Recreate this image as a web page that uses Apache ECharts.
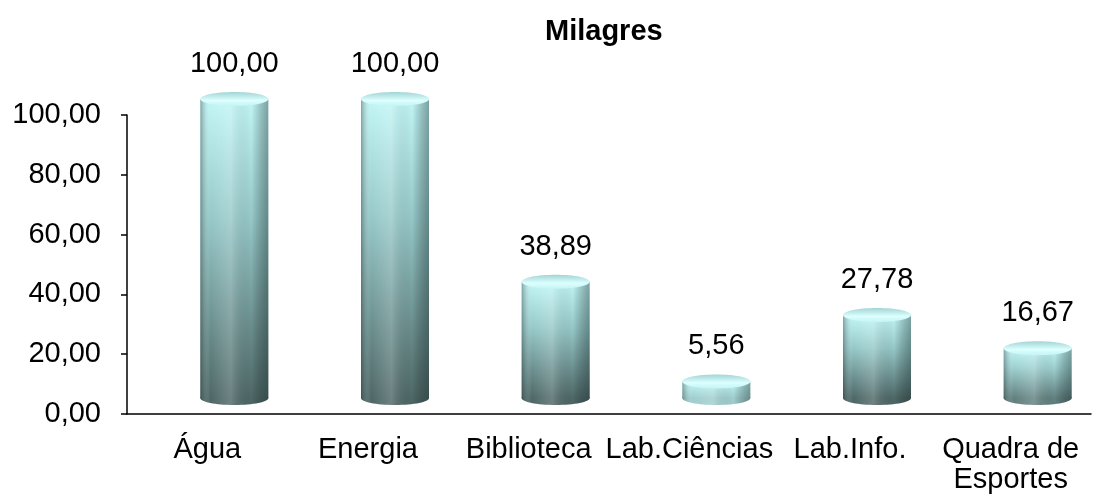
<!DOCTYPE html>
<html>
<head>
<meta charset="utf-8">
<script src="https://cdn.jsdelivr.net/npm/echarts@6/dist/echarts.min.js"></script>
<style>
  html, body { margin: 0; padding: 0; background: #fff; }
  #main { width: 1093px; height: 497px; }
</style>
</head>
<body>
<div id="main"></div>
<script>
  // dados
  var categorias = ['Água', 'Energia', 'Biblioteca', 'Lab.Ciências', 'Lab.Info.', 'Quadra de\nEsportes'];
  var valores = [100, 100, 38.89, 5.56, 27.78, 16.67];
  var yTicks = [0, 20, 40, 60, 80, 100];

  var fonte = '"Liberation Sans", Arial, sans-serif';

  function fmt(v) {
    return v.toFixed(2).replace('.', ',');
  }

  function mix(a, b, t) {
    var c = [];
    for (var i = 0; i < 3; i++) c.push(Math.round(a[i] + (b[i] - a[i]) * t));
    return 'rgb(' + c.join(',') + ')';
  }

  // cilindro "3D" desenhado por renderItem
  function renderCilindro(params, api) {
    var idx = api.value(0);
    var val = api.value(1);
    var base = api.coord([idx, 0]);
    var topo = api.coord([idx, val]);
    var dx = 27, offY = 16, rx = 34, ry = 7;
    var cx = base[0] + dx;
    var yb = base[1] - offY;
    var yt = topo[1] - offY;
    var h = yb - yt;
    var f = Math.min(1, h / 60);
    var claro = [192, 244, 244];
    var escuro = [78, 104, 103];
    var fundo = mix(claro, escuro, f);
    var meio = mix(claro, [150, 200, 200], f);

    var G = echarts.graphic;
    var gradV = new G.LinearGradient(0, 0, 0, 1, [
      { offset: 0, color: '#c2f6f6' },
      { offset: 0.4, color: meio },
      { offset: 1, color: fundo }
    ]);
    var gradH = new G.LinearGradient(0, 0, 1, 0, [
      { offset: 0, color: 'rgba(30,50,50,0.4)' },
      { offset: 0.15, color: 'rgba(255,255,255,0)' },
      { offset: 0.45, color: 'rgba(255,255,255,0.18)' },
      { offset: 0.75, color: 'rgba(0,0,0,0)' },
      { offset: 1, color: 'rgba(20,40,40,0.4)' }
    ]);
    var gradTopo = new G.LinearGradient(0, 0, 0, 1, [
      { offset: 0, color: '#a2d4d4' },
      { offset: 0.6, color: '#dcffff' },
      { offset: 1, color: '#c4f4f4' }
    ]);

    return {
      type: 'group',
      children: [
        { type: 'ellipse', shape: { cx: cx, cy: yb, rx: rx, ry: ry }, style: { fill: fundo } },
        { type: 'ellipse', shape: { cx: cx, cy: yb, rx: rx, ry: ry }, style: { fill: gradH } },
        { type: 'rect', shape: { x: cx - rx, y: yt, width: rx * 2, height: h }, style: { fill: gradV } },
        { type: 'rect', shape: { x: cx - rx, y: yt, width: rx * 2, height: h }, style: { fill: gradH } },
        { type: 'ellipse', shape: { cx: cx, cy: yt, rx: rx, ry: ry }, style: { fill: gradTopo } },
        {
          type: 'text',
          style: {
            x: cx, y: yt - ry - 28,
            text: fmt(val),
            align: 'center', verticalAlign: 'middle',
            font: '29px ' + fonte,
            fill: '#000'
          }
        }
      ]
    };
  }

  var myChart = echarts.init(document.getElementById('main'));
  var option = {
    backgroundColor: '#fff',
    animation: false,
    title: {
      text: 'Milagres',
      left: 540,
      top: 12,
      textStyle: { fontFamily: fonte, fontWeight: 'bold', fontSize: 29, color: '#000' }
    },
    grid: {
      left: 127,
      right: 2,
      top: 115,
      bottom: 83
    },
    xAxis: {
      type: 'category',
      data: categorias,
      axisLine: { lineStyle: { color: '#000', width: 1.5 } },
      axisTick: { length: 7, lineStyle: { color: '#000', width: 1.5 } },
      axisLabel: {
        color: '#000', fontFamily: fonte, fontSize: 29, margin: 21, lineHeight: 30,
        interval: 0
      }
    },
    yAxis: {
      type: 'value',
      min: yTicks[0],
      max: yTicks[yTicks.length - 1],
      interval: 20,
      axisLine: { show: true, lineStyle: { color: '#000', width: 1.5 } },
      axisTick: { show: true, length: 6, lineStyle: { color: '#000', width: 1.5 } },
      splitLine: { show: false },
      axisLabel: {
        color: '#000', fontFamily: fonte, fontSize: 29, margin: 26,
        formatter: function (v) { return fmt(v); }
      }
    },
    series: [{
      type: 'custom',
      renderItem: renderCilindro,
      encode: { x: 0, y: 1 },
      data: valores.map(function (v, i) { return [i, v]; })
    }]
  };
  myChart.setOption(option);
</script>
</body>
</html>
